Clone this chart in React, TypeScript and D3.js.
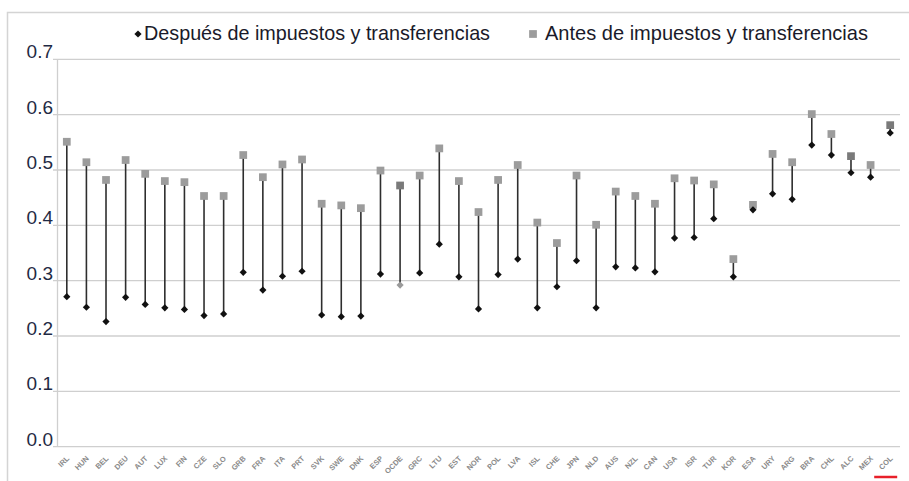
import React, { useEffect, useRef } from "react";
import * as d3 from "d3";

// Country codes along the x axis
const countries = [
  "IRL", "HUN", "BEL", "DEU", "AUT", "LUX", "FIN", "CZE", "SLO", "GRB",
  "FRA", "ITA", "PRT", "SVK", "SWE", "DNK", "ESP", "OCDE", "GRC", "LTU",
  "EST", "NOR", "POL", "LVA", "ISL", "CHE", "JPN", "NLD", "AUS", "NZL",
  "CAN", "USA", "ISR", "TUR", "KOR", "ESA", "URY", "ARG", "BRA", "CHL",
  "ALC", "MEX", "COL",
];

// Gini before taxes and transfers (squares)
const before = [
  0.551, 0.514, 0.482, 0.518, 0.493, 0.480, 0.478, 0.453, 0.453, 0.527,
  0.487, 0.510, 0.519, 0.439, 0.436, 0.431, 0.499, 0.472, 0.490, 0.539,
  0.480, 0.424, 0.482, 0.509, 0.405, 0.368, 0.490, 0.401, 0.461, 0.453,
  0.439, 0.485, 0.481, 0.474, 0.339, 0.437, 0.529, 0.514, 0.601, 0.565,
  0.525, 0.509, 0.581,
];

// Gini after taxes and transfers (diamonds)
const after = [
  0.271, 0.252, 0.226, 0.270, 0.257, 0.251, 0.248, 0.237, 0.240, 0.315,
  0.283, 0.308, 0.317, 0.238, 0.235, 0.236, 0.312, 0.292, 0.314, 0.366,
  0.307, 0.249, 0.311, 0.339, 0.251, 0.289, 0.336, 0.251, 0.325, 0.323,
  0.316, 0.377, 0.378, 0.412, 0.307, 0.428, 0.457, 0.447, 0.545, 0.527,
  0.495, 0.487, 0.567,
];

const yTicks = [0, 0.1, 0.2, 0.3, 0.4, 0.5, 0.6, 0.7];
const highlighted = ["OCDE", "ALC", "COL"];

const legendAfter = "Después de impuestos y transferencias";
const legendBefore = "Antes de impuestos y transferencias";

const App = () => {
  const svgRef = useRef<SVGSVGElement>(null);

  useEffect(() => {
    const width = 909;
    const height = 481;
    const margin = { top: 59.3, right: 9, bottom: 34.3, left: 57 };

    const svg = d3.select(svgRef.current);
    svg.selectAll("*").remove();
    svg.attr("width", width).attr("height", height);

    const data = countries.map((c, i) => ({ c, before: before[i], after: after[i] }));

    const x = d3
      .scaleBand()
      .domain(countries)
      .range([margin.left, width - margin.right]);
    const y = d3
      .scaleLinear()
      .domain([0, 0.7])
      .range([height - margin.bottom, margin.top]);

    // outer frame
    svg
      .append("rect")
      .attr("x", 7.5)
      .attr("y", 12.5)
      .attr("width", 1000)
      .attr("height", 1000)
      .attr("fill", "none")
      .attr("stroke", "#d4d4d4")
      .attr("stroke-width", 1.5);

    // gridlines
    svg
      .append("g")
      .selectAll("line")
      .data(yTicks)
      .enter()
      .append("line")
      .attr("x1", margin.left - 4)
      .attr("x2", width - margin.right)
      .attr("y1", (d) => y(d))
      .attr("y2", (d) => y(d))
      .attr("stroke", "#cfcfcf")
      .attr("stroke-width", 1.3);

    // y axis line
    svg
      .append("line")
      .attr("x1", margin.left + 0.5)
      .attr("x2", margin.left + 0.5)
      .attr("y1", y(0.7))
      .attr("y2", y(0))
      .attr("stroke", "#cfcfcf")
      .attr("stroke-width", 1.3);

    // y tick labels
    svg
      .append("g")
      .selectAll("text")
      .data(yTicks)
      .enter()
      .append("text")
      .attr("x", margin.left - 4)
      .attr("y", (d) => y(d) - 1)
      .attr("text-anchor", "end")
      .style("font-family", "Liberation Sans, Arial, sans-serif")
      .style("font-size", "19px")
      .attr("fill", "#1f2a44")
      .text((d) => d3.format(".1f")(d));

    // x labels
    svg
      .append("g")
      .selectAll("text")
      .data(countries)
      .enter()
      .append("text")
      .attr("transform", (d) => `translate(${x(d)! + x.bandwidth() / 2 + 3},459) rotate(-45)`)
      .attr("text-anchor", "end")
      .style("font-family", "Liberation Sans Narrow, Liberation Sans, sans-serif")
      .style("font-size", "7.5px")
      .style("font-weight", "bold")
      .attr("fill", "#8a8a8a")
      .text((d) => d);

    // red underline under COL
    const colX = x("COL")! + x.bandwidth() / 2;
    svg
      .append("line")
      .attr("x1", colX - 16)
      .attr("x2", colX + 7)
      .attr("y1", 477)
      .attr("y2", 477)
      .attr("stroke", "#e8202a")
      .attr("stroke-width", 2.5);

    const cx = (d: { c: string }) => x(d.c)! + x.bandwidth() / 2;

    // connecting lines
    svg
      .append("g")
      .selectAll("line")
      .data(data)
      .enter()
      .append("line")
      .attr("x1", cx)
      .attr("x2", cx)
      .attr("y1", (d) => y(d.before))
      .attr("y2", (d) => y(d.after))
      .attr("stroke", "#2e2e2e")
      .attr("stroke-width", 1.6);

    const squareSym = d3.symbol().type(d3.symbolSquare).size(60)();
    const diamondSym = d3.symbol().type(d3.symbolSquare).size(26)();

    // before markers
    svg
      .append("g")
      .selectAll("path")
      .data(data)
      .enter()
      .append("path")
      .attr("d", squareSym)
      .attr("transform", (d) => `translate(${cx(d)},${y(d.before)})`)
      .attr("fill", (d) => (highlighted.includes(d.c) ? "#7a7a7a" : "#9c9c9c"));

    // after markers
    svg
      .append("g")
      .selectAll("path")
      .data(data)
      .enter()
      .append("path")
      .attr("d", diamondSym)
      .attr("transform", (d) => `translate(${cx(d)},${y(d.after)}) rotate(45)`)
      .attr("fill", (d) => (d.c === "OCDE" ? "#9a9a9a" : "#111"));

    // legend
    const legend = svg.append("g");
    legend
      .append("path")
      .attr("d", diamondSym)
      .attr("transform", "translate(138,34) rotate(45)")
      .attr("fill", "#111");
    legend
      .append("text")
      .attr("x", 144)
      .attr("y", 40)
      .attr("textLength", 346)
      .attr("lengthAdjust", "spacingAndGlyphs")
      .style("font-family", "Liberation Sans Narrow, Liberation Sans, sans-serif")
      .style("font-size", "21px")
      .attr("fill", "#1a1a2a")
      .text(legendAfter);
    legend
      .append("path")
      .attr("d", squareSym)
      .attr("transform", "translate(533,34)")
      .attr("fill", "#9c9c9c");
    legend
      .append("text")
      .attr("x", 545)
      .attr("y", 40)
      .attr("textLength", 323)
      .attr("lengthAdjust", "spacingAndGlyphs")
      .style("font-family", "Liberation Sans Narrow, Liberation Sans, sans-serif")
      .style("font-size", "21px")
      .attr("fill", "#1a1a2a")
      .text(legendBefore);
  }, []);

  return <svg ref={svgRef} style={{ position: "absolute", left: 0, top: 0 }}></svg>;
};

export default App;
